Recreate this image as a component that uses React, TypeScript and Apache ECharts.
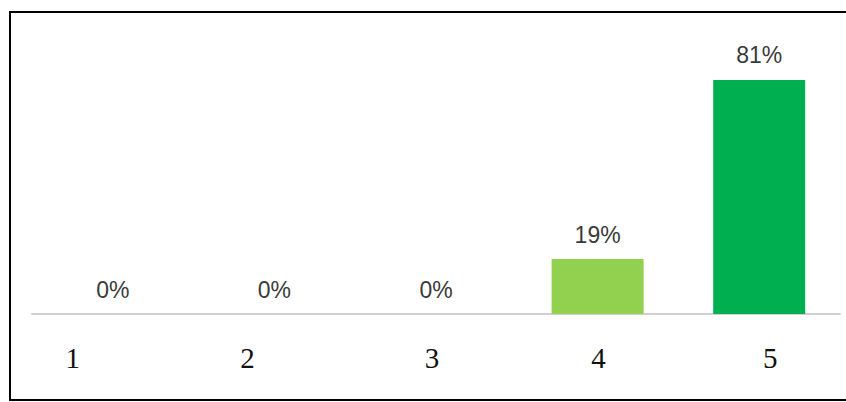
import React, { useEffect, useRef } from "react";
import * as echarts from "echarts";

const categories = ["1", "2", "3", "4", "5"];
const values = [0, 0, 0, 19, 81];
const barColors = ["#92d050", "#92d050", "#92d050", "#92d050", "#00b050"];
// horizontal nudges of the category labels (px), as in the reference
const labelShift = [-40, -27, -4, 1, 11];

export default function App() {
  const ref = useRef<HTMLDivElement>(null);
  useEffect(() => {
    if (!ref.current) return;
    const chart = echarts.init(ref.current, null, { renderer: "svg" });
    const rich: Record<string, any> = {};
    labelShift.forEach((s, i) => {
      rich["c" + i] = {
        fontFamily: "'Liberation Serif', 'Times New Roman', serif",
        fontSize: 29,
        color: "#111",
        padding: s >= 0 ? [0, 0, 0, 2 * s] : [0, -2 * s, 0, 0],
      };
    });
    chart.setOption({
      animation: false,
      backgroundColor: "#ffffff",
      grid: { left: 32, right: 6, top: 25, bottom: 88, containLabel: false },
      xAxis: {
        type: "category",
        data: categories,
        axisLine: { show: true, lineStyle: { color: "#d0d0d0", width: 2 } },
        axisTick: { show: false },
        axisLabel: {
          margin: 29,
          formatter: (v: string) => {
            const i = categories.indexOf(v);
            return "{c" + i + "|" + v + "}";
          },
          rich,
        },
      },
      yAxis: {
        type: "value",
        min: 0,
        max: 100,
        show: false,
        splitLine: { show: false },
      },
      series: [
        {
          type: "bar",
          data: values.map((v, i) => ({ value: v, itemStyle: { color: barColors[i] } })),
          barWidth: 92,
          label: {
            show: true,
            position: "top",
            distance: 13,
            formatter: "{c}%",
            fontFamily: "'Liberation Sans Narrow', 'Arial Narrow', 'Liberation Sans', sans-serif",
            fontSize: 23,
            color: "#3a3a3a",
          },
        },
      ],
      graphic: [
        {
          type: "rect",
          shape: { x: 10, y: 12, width: 840, height: 388 },
          style: { fill: "none", stroke: "#000", lineWidth: 2 },
          silent: true,
        },
      ],
    });
    return () => chart.dispose();
  }, []);
  return (
    <div
      ref={ref}
      style={{ position: "fixed", left: 0, top: 0, width: 846, height: 402 }}
    />
  );
}
